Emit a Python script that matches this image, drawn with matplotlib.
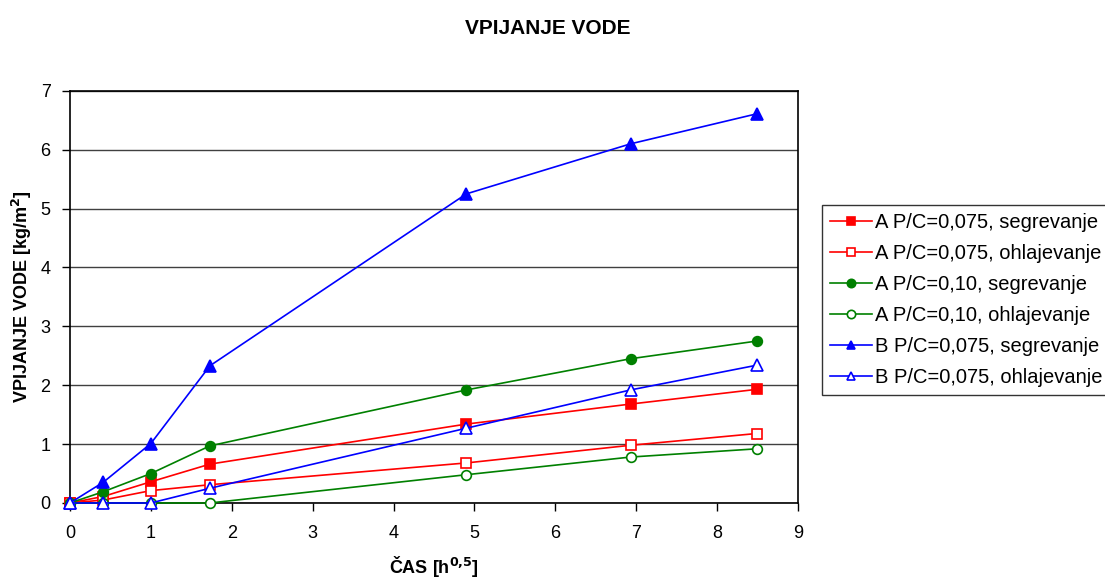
import numpy as np
import matplotlib
matplotlib.use("Agg")
import matplotlib.pyplot as plt

plt.rcParams['font.family'] = ['Liberation Sans', 'DejaVu Sans']

# time axis: square root of hours
cas = [0, 0.41, 1.0, 1.73, 4.90, 6.93, 8.49]

a075_seg = [0, 0.11, 0.36, 0.66, 1.34, 1.68, 1.93]
a075_ohl = [0, 0.05, 0.21, 0.31, 0.68, 0.98, 1.18]
a010_seg = [0, 0.19, 0.50, 0.97, 1.92, 2.45, 2.75]
a010_ohl = [0, 0, 0, 0, 0.48, 0.78, 0.92]
b075_seg = [0, 0.35, 1.01, 2.33, 5.25, 6.10, 6.61]
b075_ohl = [0, 0, 0, 0.25, 1.27, 1.92, 2.34]

labels = ["A P/C=0,075, segrevanje", "A P/C=0,075, ohlajevanje",
          "A P/C=0,10, segrevanje", "A P/C=0,10, ohlajevanje",
          "B P/C=0,075, segrevanje", "B P/C=0,075, ohlajevanje"]

fig = plt.figure(figsize=(11.05, 5.79), dpi=100)
ax = fig.add_axes([0.0633, 0.1313, 0.6589, 0.7118])

series = [
    (a075_seg, 'red', 's', True),
    (a075_ohl, 'red', 's', False),
    (a010_seg, 'green', 'o', True),
    (a010_ohl, 'green', 'o', False),
    (b075_seg, 'blue', '^', True),
    (b075_ohl, 'blue', '^', False),
]
for (vals, col, mk, filled), lab in zip(series, labels):
    ax.plot(cas, vals, color=col, marker=mk, markersize=8 if mk == '^' else 7,
            markerfacecolor=col if filled else 'white', markeredgecolor=col,
            markeredgewidth=1.2, linewidth=1.2, label=lab, clip_on=False, zorder=3)

ax.set_xlim(0, 9)
ax.set_ylim(0, 7)
ax.set_xticks(range(0, 10))
ax.set_yticks(range(0, 8))
ax.tick_params(direction='out', length=6, labelsize=13, width=1)
ax.tick_params(axis='x', pad=10)
ax.tick_params(axis='y', pad=8)
ax.yaxis.grid(True, color='#404040', linewidth=1)
ax.set_axisbelow(True)
for s in ax.spines.values():
    s.set_linewidth(1.2)

ax.set_xlabel(r"ČAS [h$^{\mathbf{0{,}5}}$]", fontsize=13, fontweight='bold')
ax.set_ylabel(r"VPIJANJE VODE [kg/m$^{\mathbf{2}}$]", fontsize=13, fontweight='bold')
ax.xaxis.set_label_coords(0.5, -0.153)
ax.yaxis.set_label_coords(-0.066, 0.5)
ax.xaxis.label.set_va('center')
ax.yaxis.label.set_va('center')
fig.text(0.496, 0.950, "VPIJANJE VODE", ha='center', va='center', fontsize=15, fontweight='bold')

leg = ax.legend(loc='upper left', bbox_to_anchor=(0.744, 0.646), bbox_transform=fig.transFigure,
                fontsize=14.5, frameon=True, fancybox=False, edgecolor='black',
                borderpad=0.4, labelspacing=0.6, handlelength=2.1, handletextpad=0.15,
                borderaxespad=0)
leg.get_frame().set_linewidth(1)
for h in leg.legend_handles:
    h.set_markersize(6)

fig.savefig("out.png", dpi=100)
